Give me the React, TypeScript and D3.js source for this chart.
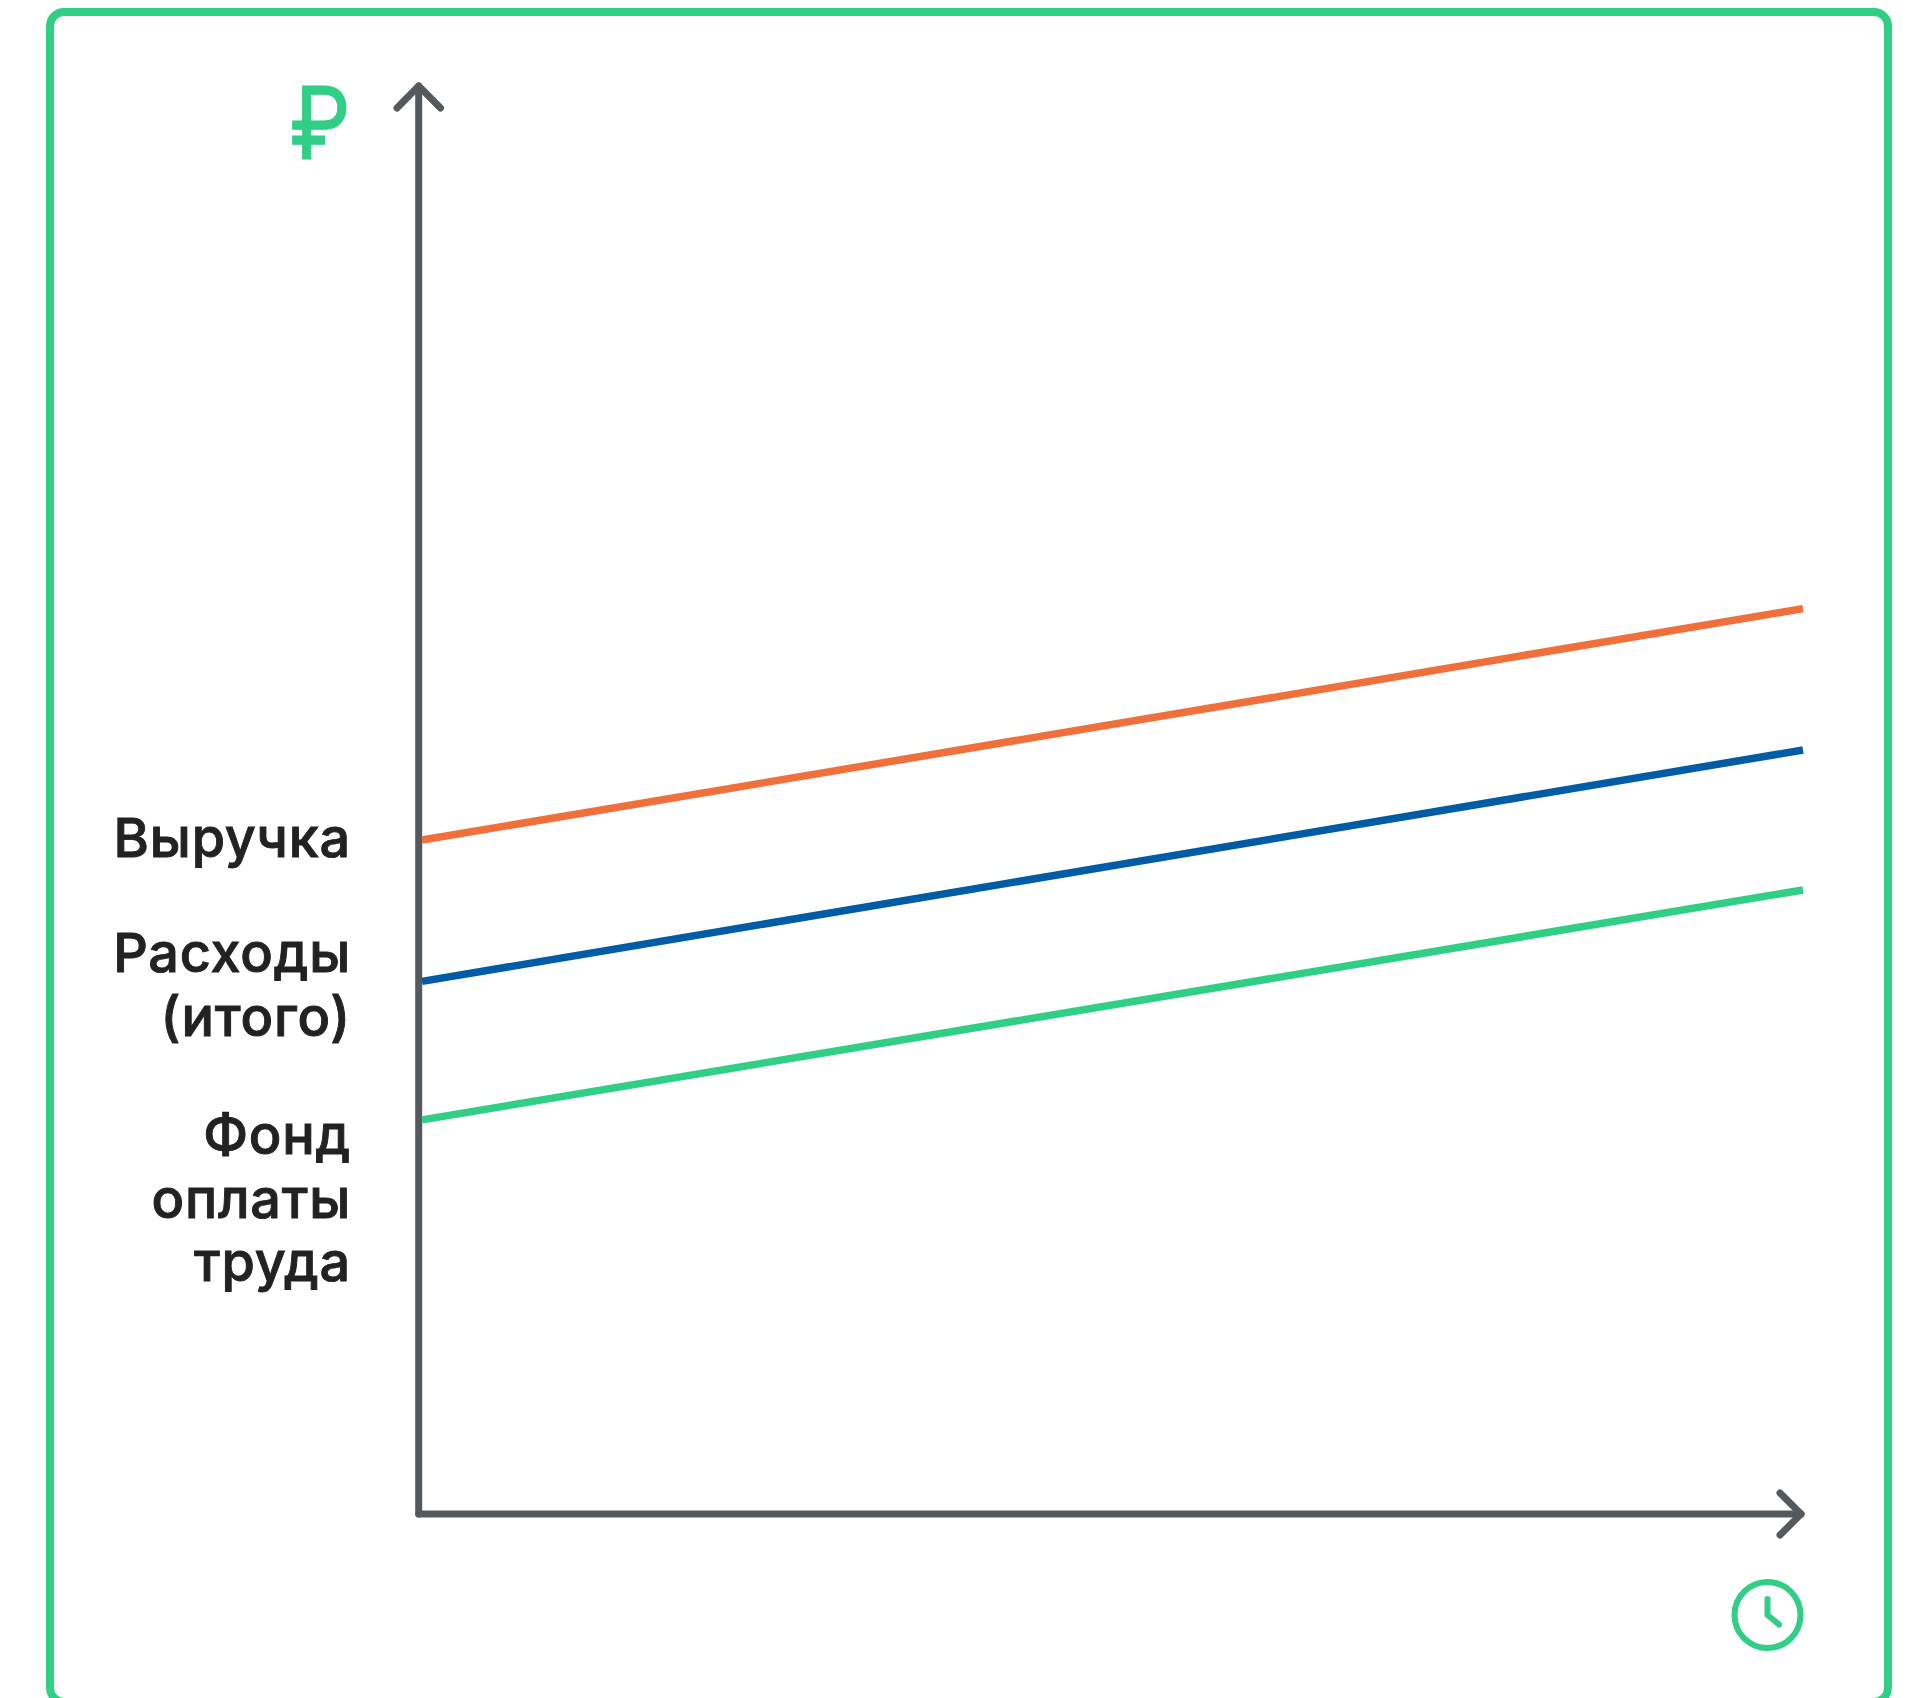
import React from "react";
import * as d3 from "d3";

const periods = [0, 1];
const revenue = [47.2, 63.4];
const expenses = [37.3, 53.5];
const payroll = [27.6, 43.7];
const labelRevenue = ["Выручка"];
const labelExpenses = ["Расходы", "(итого)"];
const labelPayroll = ["Фонд", "оплаты", "труда"];

const GREEN = "#31CE85";
const AXIS = "#54595D";
const INK = "#222222";
const FONT = "Inter, 'Open Sans', sans-serif";

export default function App() {
  const x = d3.scaleLinear().domain([0, 1]).range([422, 1803]);
  const y = d3.scaleLinear().domain([0, 100]).range([1514, 86]);
  const line = d3
    .line<number>()
    .x((_, i) => x(periods[i]))
    .y((d) => y(d));
  const series = [
    { v: revenue, c: "#F0703C" },
    { v: expenses, c: "#005CA5" },
    { v: payroll, c: GREEN },
  ];
  const labels = [
    { lines: labelRevenue, base: 857 },
    { lines: labelExpenses, base: 972 },
    { lines: labelPayroll, base: 1154 },
  ];
  return (
    <svg
      width={1920}
      height={1698}
      viewBox="0 0 1920 1698"
      style={{ position: "absolute", left: 0, top: 0, display: "block", background: "#fff" }}
    >
      <rect x={50} y={12} width={1838} height={1690} rx={14} fill="none" stroke={GREEN} strokeWidth={8} />
      <g fill="none" stroke={AXIS} strokeWidth={7} strokeLinecap="round" strokeLinejoin="round">
        <path d={`M${x(0) - 3.3},${y(0)}V${y(100)}`} />
        <path d={`M${x(0) - 25},${y(100) + 22}L${x(0) - 3.3},${y(100)}L${x(0) + 18.5},${y(100) + 22}`} />
        <path d={`M${x(0) - 3.3},${y(0)}H${x(1) - 2}`} />
        <path d={`M${x(1) - 23},${y(0) - 21}L${x(1) - 2},${y(0)}L${x(1) - 23},${y(0) + 21}`} />
      </g>
      {series.map((s, i) => (
        <path key={i} d={line(s.v) ?? ""} fill="none" stroke={s.c} strokeWidth={7.5} />
      ))}
      <g
        fontFamily={FONT}
        fontSize={54}
        fontWeight={500}
        fill={INK}
        stroke={INK}
        strokeWidth={0.9}
        textAnchor="end"
        letterSpacing={0.8}
      >
        {labels.map((l) =>
          l.lines.map((t, i) => (
            <text key={t} x={351} y={l.base + i * 63.7}>
              {t}
            </text>
          ))
        )}
      </g>
      <text
        transform="translate(320,159) scale(0.87,1)"
        fontFamily={FONT}
        fontSize={100}
        fontWeight={400}
        fill={GREEN}
        stroke={GREEN}
        strokeWidth={1.2}
        textAnchor="middle"
      >
        ₽
      </text>
      <g fill="none" stroke={GREEN} strokeWidth={6} strokeLinecap="round" strokeLinejoin="round">
        <circle cx={1767.5} cy={1615} r={33} />
        <path d="M1767.5,1599V1615L1779,1624.5" />
      </g>
    </svg>
  );
}
